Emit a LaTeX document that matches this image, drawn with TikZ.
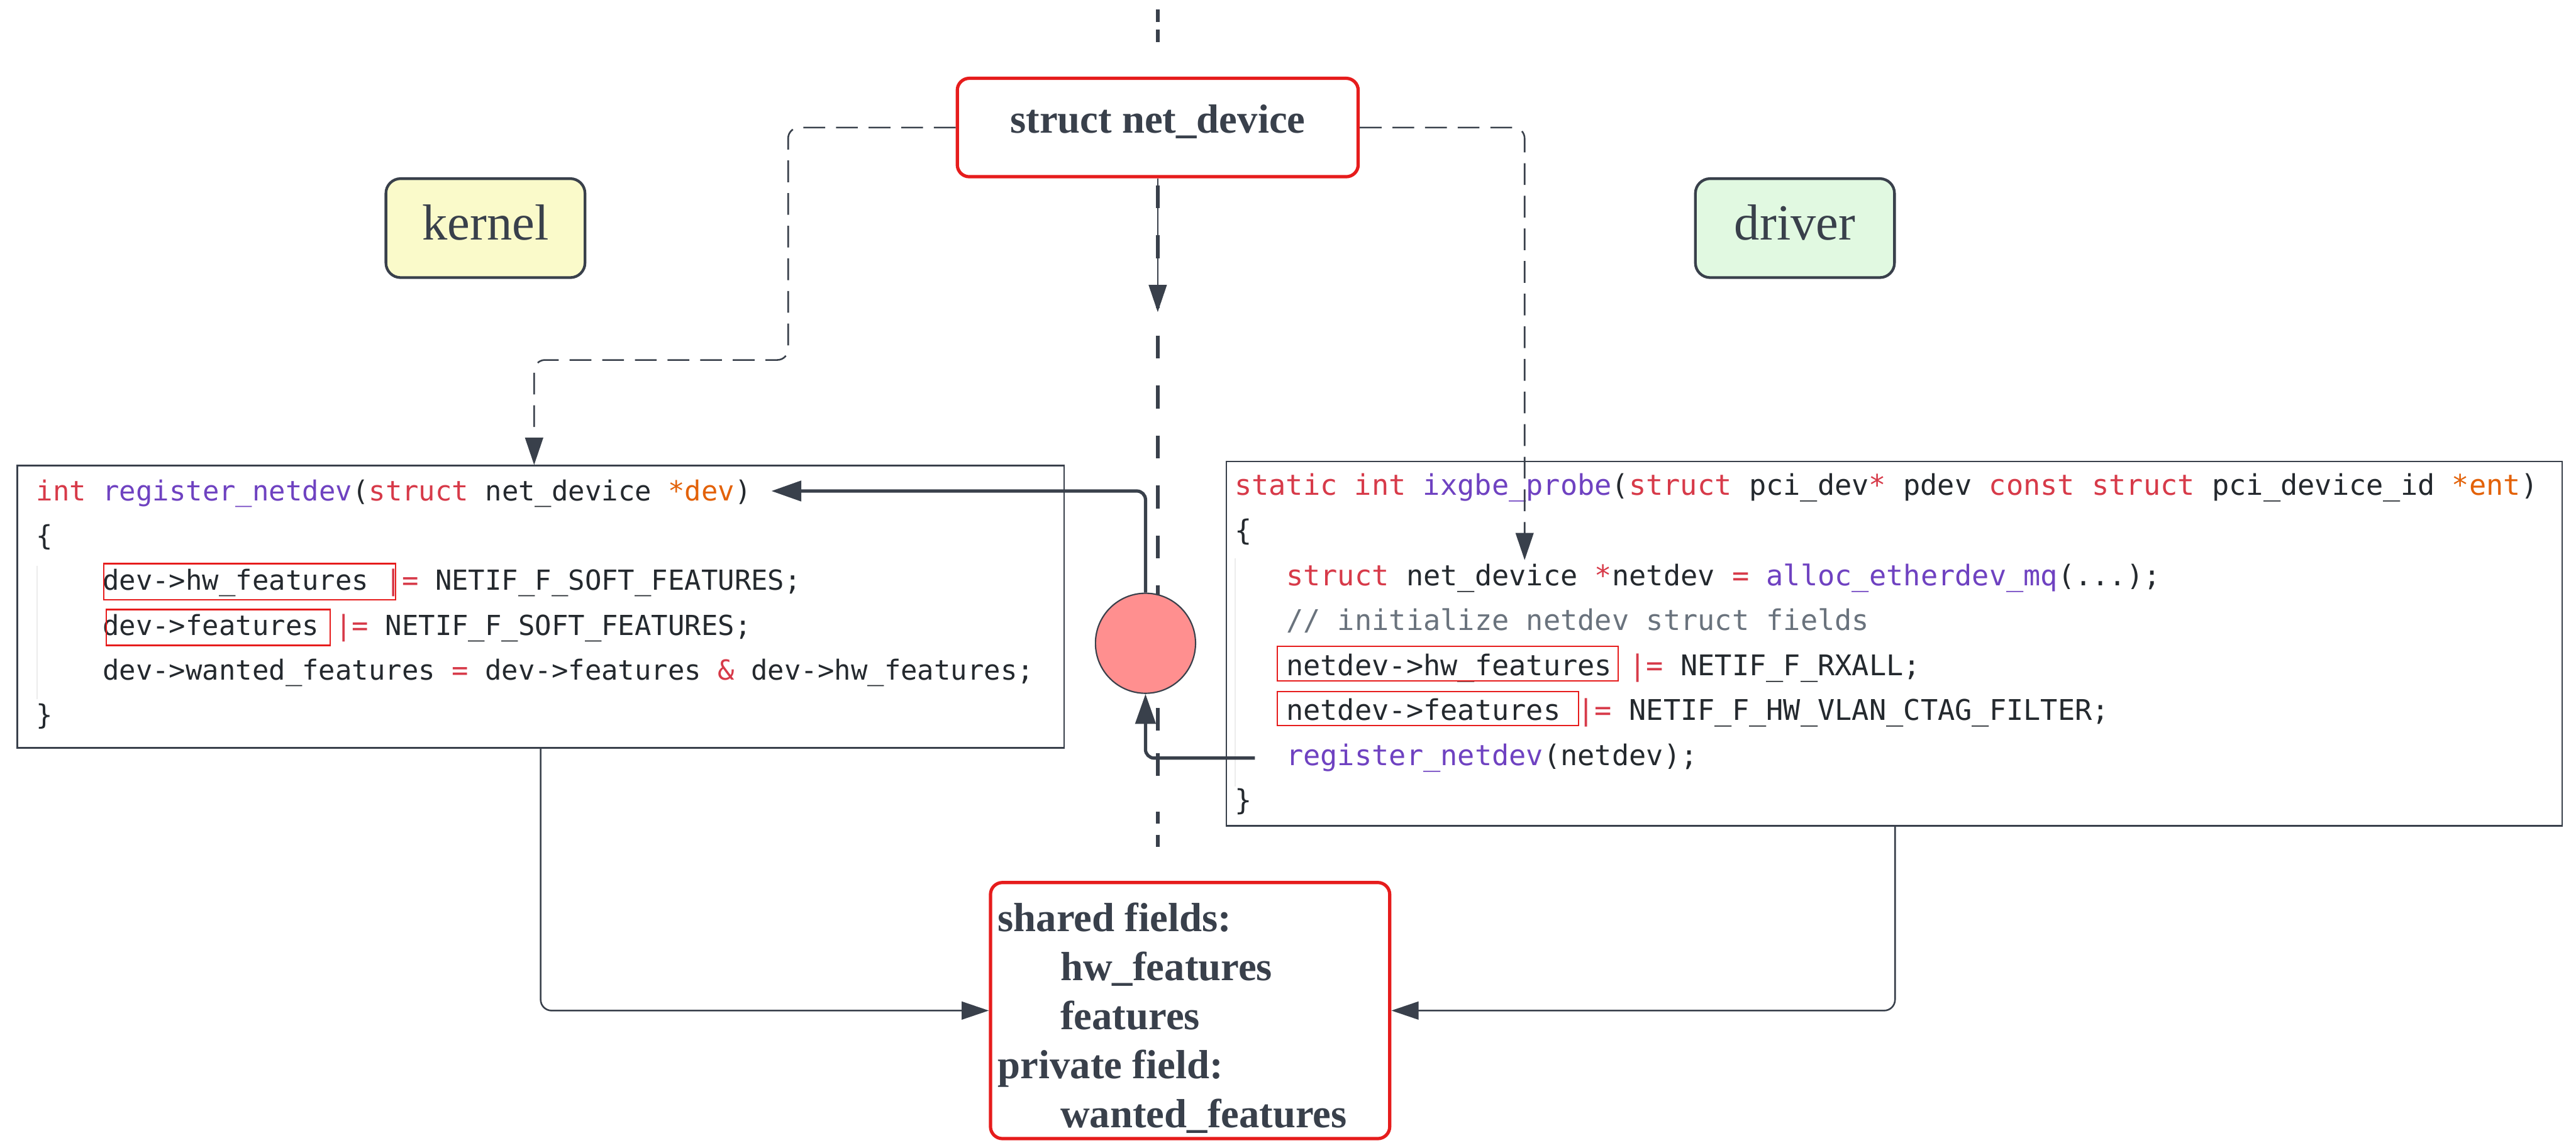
\documentclass[tikz,border=0pt]{standalone}
\usepackage{fontspec}
\setmainfont{Liberation Serif}
\newfontfamily\codefont{DejaVu Sans Mono}
\usetikzlibrary{calc,positioning,arrows.meta,shapes}

\definecolor{inkdark}{RGB}{57,64,75}
\definecolor{alertred}{RGB}{230,28,28}
\definecolor{hubpink}{RGB}{255,143,143}
\definecolor{kernfill}{RGB}{250,250,202}
\definecolor{drvfill}{RGB}{225,249,225}
\definecolor{kwred}{RGB}{215,58,73}
\definecolor{fnpurple}{RGB}{111,66,193}
\definecolor{parorange}{RGB}{227,98,9}
\definecolor{codetext}{RGB}{36,41,46}
\definecolor{cmtgray}{RGB}{106,115,125}

\newcommand{\kwd}[1]{\textcolor{kwred}{#1}}
\newcommand{\fnc}[1]{\textcolor{fnpurple}{#1}}
\newcommand{\prm}[1]{\textcolor{parorange}{#1}}
\newcommand{\cmnt}[1]{\textcolor{cmtgray}{#1}}

\tikzset{
  redbox/.style={draw=alertred,line width=0.06cm,rounded corners=0.22cm,fill=white,
    text=inkdark,font=\bfseries\fontsize{21.3}{25.7}\selectfont},
  tagbox/.style={draw=inkdark,line width=0.05cm,rounded corners=0.27cm,text=inkdark,
    minimum width=3.66cm,minimum height=1.82cm,text depth=0.22cm,
    font=\fontsize{26.5}{30}\selectfont},
  fieldtext/.style={anchor=north west,inner sep=0pt,align=left,text=inkdark,
    font=\bfseries\fontsize{21.3}{25.7}\selectfont},
  codebox/.style={draw=inkdark,line width=0.03cm,fill=white},
  kline/.style={anchor=mid west,inner sep=0pt,text=codetext,
    font=\codefont\fontsize{14.45}{17}\selectfont},
  dline/.style={kline,font=\codefont\fontsize{14.9}{17}\selectfont},
  hilite/.style={draw=alertred,line width=0.025cm},
  guide/.style={draw=gray!15,line width=0.025cm},
  divider/.style={draw=inkdark,line width=0.07cm},
  link/.style={draw=inkdark,line width=0.03cm,rounded corners=0.2cm,
    -{Triangle[length=0.5cm,width=0.33cm]}},
  dashlink/.style={link,dash pattern=on 0.4cm off 0.2cm},
  callarrow/.style={draw=inkdark,line width=0.06cm,rounded corners=0.16cm,
    -{Triangle[length=0.55cm,width=0.37cm]}},
}

\begin{document}
\begin{tikzpicture}

  \useasboundingbox (0,0) rectangle (47.36,-21.01);

  % kernel / driver divider
  \foreach \ya/\yb/\on/\off in {0.17/0.82/0.24cm/0.13cm, 3.41/10.95/0.42cm/0.5cm,
      13.02/14.28/0.42cm/0.41cm, 14.93/15.60/0.22cm/0.2cm}{
    \draw[divider,dash pattern=on \on off \off] (21.29,-\ya) -- (21.29,-\yb);
  }

  \node [redbox,minimum width=7.37cm,minimum height=1.81cm,text depth=0.33cm] at(21.285,-2.345) (sd) {struct net\_device};
  \node [tagbox,fill=kernfill] at(8.925,-4.195) (kern) {kernel};
  \node [tagbox,fill=drvfill] at(33.0,-4.195) (drv) {driver};

  \node [codebox,minimum width=19.25cm,minimum height=5.19cm] at(9.94,-11.16) (regbox) {};
  \node [codebox,minimum width=24.56cm,minimum height=6.70cm] at(34.825,-11.835) (drvbox) {};

  \node [circle,draw=inkdark,fill=hubpink,line width=0.025cm,minimum size=1.84cm,inner sep=0pt] at(21.06,-11.83) (hub) {};

  \node [redbox,minimum width=7.34cm,minimum height=4.71cm] at(21.88,-18.585) (fields) {};
  \node [fieldtext] at($(fields.north west)+(0.16,-0.39)$) (fieldlist)
    {shared fields:\\ \hspace*{1.15cm}hw\_features\\ \hspace*{1.15cm}features\\ private field:\\ \hspace*{1.15cm}wanted\_features};

  % kernel side code
  \node [kline] at(0.66,-9.13) (kl1) {\kwd{int} \fnc{register\_netdev}(\kwd{struct} net\_device \prm{*dev})};
  \node [kline] at($(kl1.mid west)+(0,-0.823)$) (kl2) {\{};
  \node [kline] at($(kl2.mid west)+(1.22,-0.823)$) (kl3) {dev->hw\_features \kwd{|=} NETIF\_F\_SOFT\_FEATURES;};
  \node [kline] at($(kl3.mid west)+(0,-0.823)$) (kl4) {dev->features \kwd{|=} NETIF\_F\_SOFT\_FEATURES;};
  \node [kline] at($(kl4.mid west)+(0,-0.823)$) (kl5) {dev->wanted\_features \kwd{=} dev->features \kwd{\&} dev->hw\_features;};
  \node [kline] at($(kl5.mid west)+(-1.22,-0.823)$) (kl6) {\}};

  % driver side code
  \node [dline] at(22.69,-9.03) (dl1) {\kwd{static} \kwd{int} \fnc{ixgbe\_probe}(\kwd{struct} pci\_dev\kwd{*} pdev \kwd{const} \kwd{struct} pci\_device\_id \prm{*ent})};
  \node [dline] at($(dl1.mid west)+(0,-0.827)$) (dl2) {\{};
  \node [dline] at($(dl2.mid west)+(0.95,-0.827)$) (dl3) {\kwd{struct} net\_device \kwd{*}netdev \kwd{=} \fnc{alloc\_etherdev\_mq}(...);};
  \node [dline] at($(dl3.mid west)+(0,-0.827)$) (dl4) {\cmnt{// initialize netdev struct fields}};
  \node [dline] at($(dl4.mid west)+(0,-0.827)$) (dl5) {netdev->hw\_features \kwd{|=} NETIF\_F\_RXALL;};
  \node [dline] at($(dl5.mid west)+(0,-0.827)$) (dl6) {netdev->features \kwd{|=} NETIF\_F\_HW\_VLAN\_CTAG\_FILTER;};
  \node [dline] at($(dl6.mid west)+(0,-0.827)$) (dl7) {\fnc{register\_netdev}(netdev);};
  \node [dline] at($(dl7.mid west)+(-0.95,-0.827)$) (dl8) {\}};

  \draw[guide] ($(kl2.mid west)+(0.02,-0.45)$) -- ($(kl6.mid west)+(0.02,0.39)$);
  \draw[guide] ($(dl2.mid west)+(0.02,-0.41)$) -- ($(dl8.mid west)+(0.02,0.35)$);

  % shared fields marked in both functions
  \draw[hilite] ($(kl3.mid west)+(0.03,0.41)$) rectangle ++(5.36,-0.66);
  \draw[hilite] ($(kl4.mid west)+(0.07,0.39)$) rectangle ++(4.12,-0.66);
  \draw[hilite] ($(dl5.mid west)+(-0.16,0.45)$) rectangle ++(6.27,-0.63);
  \draw[hilite] ($(dl6.mid west)+(-0.16,0.45)$) rectangle ++(5.54,-0.63);

  \coordinate (kbend) at (14.49,-6.62);
  \coordinate (drvtip) at (28.03,-10.30);
  \coordinate (sdtip) at (21.285,-5.74);
  \coordinate (callout) at ($(dl7.mid west)+(-0.57,0.05)$);

  \draw[dashlink] (sd.west) -| (kbend) -| ($(regbox.north west)+(9.52,0)$);
  \draw[dashlink] (sd.east) -| (drvtip);
  \draw[link] (sd.south) -- (sdtip);

  \draw[callarrow] (hub.north) |- ($(kl1.mid east)+(0.36,0.1)$);
  \draw[callarrow] (callout) -| (hub.south);

  \draw[link] ($(regbox.south west)+(9.64,0)$) |- (fields.west);
  \draw[link] ($(drvbox.south west)+(12.31,0)$) |- (fields.east);

\end{tikzpicture}
\end{document}
